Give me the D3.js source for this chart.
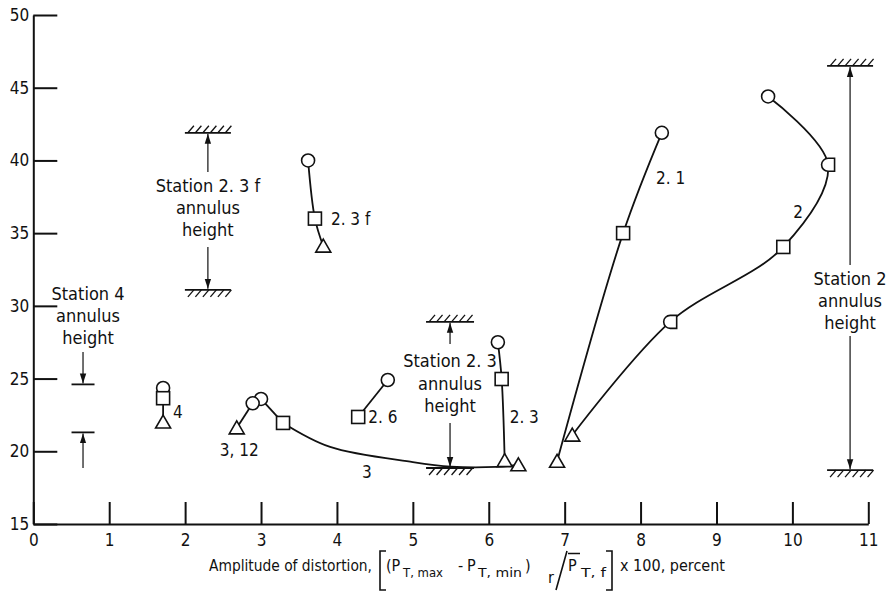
<!DOCTYPE html>
<html><head><meta charset="utf-8">
<script src="https://cdn.jsdelivr.net/npm/d3@7"></script>
<style>
html,body{margin:0;padding:0;background:#fff;}
svg{display:block;}
text{font-family:'DejaVu Sans Condensed','Liberation Sans Narrow',sans-serif;fill:#111;}
</style></head><body>
<svg id="c" width="894" height="591"></svg>
<script>
// ---------------- data ----------------
const xTickValues = [0,1,2,3,4,5,6,7,8,9,10,11];
const yTickValues = [15,20,25,30,35,40,45,50];

// marker series: [amplitude %, y]
const s2_3f_pts = [[3.62,40.0],[3.71,36.0],[3.82,34.1]];
const s2_3f_marks = ['circle','square','triangle'];
const s4_pts = [[1.71,24.35],[1.71,23.65],[1.71,22.0]];
const s4_marks = ['circle','square','triangle'];
const s3_12_pts = [[2.68,21.6],[2.89,23.3]];
const s3_12_marks = ['triangle','circle'];
const s3_pts = [[3.0,23.6],[3.29,21.95],[6.39,19.06]];
const s3_marks = ['circle','square','triangle'];
const s3_fair = [[3.29,21.95],[3.91,20.3],[5.0,19.26],[5.5,18.95],[6.1,18.93],[6.39,19.06]];
const s2_6_pts = [[4.67,24.9],[4.28,22.36]];
const s2_6_marks = ['circle','square'];
const s2_3_pts = [[6.12,27.5],[6.17,24.97],[6.21,19.35]];
const s2_3_marks = ['circle','square','triangle'];
const s2_1_pts = [[8.28,41.9],[7.77,35.0],[6.9,19.3]];
const s2_1_marks = ['circle','square','triangle'];
const s2_pts = [[9.68,44.4],[10.47,39.7],[9.88,34.05],[8.39,28.9],[7.1,21.1]];
const s2_marks = ['circle','circsq','square','circsq','triangle'];

const seriesLabels = ['2. 3 f','4','3, 12','2. 6','3','2. 3','2. 1','2'];

// annulus height annotations
const stationNames = ['Station 2. 3 f','Station 2. 3','Station 2','Station 4'];
const stationX = [2.30, 5.49, 10.76, 0.655];
const stationTop = [41.9, 28.9, 46.5, 24.6];
const stationBottom = [31.1, 18.85, 18.7, 21.3];

// ---------------- layout ----------------
const svg = d3.select('#c');
const x = d3.scaleLinear().domain([0,11]).range([33.3,868.3]);
const y = d3.scaleLinear().domain([15,50]).range([524,15]);
const INK = '#111';

// axes
const gx = svg.append('g').attr('transform',`translate(0,${y(15)})`)
  .call(d3.axisBottom(x).tickValues(xTickValues).tickSizeInner(-22).tickSizeOuter(0).tickPadding(10).tickFormat(d3.format('d')));
const gy = svg.append('g').attr('transform',`translate(${x(0)},0)`)
  .call(d3.axisLeft(y).tickValues(yTickValues).tickSizeInner(-24).tickSizeOuter(0).tickPadding(4).tickFormat(d3.format('d')));
[gx,gy].forEach(g=>{
  g.select('.domain').attr('stroke',INK).attr('stroke-width',2);
  g.selectAll('.tick line').attr('stroke',INK).attr('stroke-width',2);
  g.selectAll('.tick text').attr('font-size',17).attr('fill',INK)
   .style('font-family',"'DejaVu Sans Condensed',sans-serif");
});

// x-axis title
const tfs = 16, sfs = 12, base = 571;
const title = svg.append('g');
function t(str,xx,yy,fs,len){
  const e = title.append('text').attr('x',xx).attr('y',yy).attr('font-size',fs).text(str);
  if(len) e.attr('textLength',len).attr('lengthAdjust','spacingAndGlyphs');
}
t('Amplitude of distortion,',209,base,tfs,163);
t('(P',386,base,tfs);
t('T, max',403,base+6,sfs,40);
t('-',458,base,tfs);
t('P',467,base,tfs);
t('T, min',478,base+6,sfs,44);
t(')',525,base,tfs);
t('r',548,base+12,tfs);
t('P',568,base,tfs);
t('T, f',581,base+6,sfs,25);
t('x 100, percent',620,base,tfs,105);
// brackets, slash, overbar
title.append('path').attr('fill','none').attr('stroke',INK).attr('stroke-width',1.6)
  .attr('d','M386,551 L380,551 L380,590 L386,590 M606,551 L612,551 L612,590 L606,590 M567,551 L556,590 M568,553.5 L580,553.5');

// line generator
const line = d3.line().x(d=>x(d[0])).y(d=>y(d[1])).curve(d3.curveCatmullRom.alpha(0.5));
const lines = svg.append('g').attr('fill','none').attr('stroke',INK).attr('stroke-width',1.8);
[s2_3f_pts, s4_pts, s3_12_pts, [s3_pts[0],s3_pts[1]], s3_fair, s2_6_pts, s2_3_pts, s2_1_pts, s2_pts]
  .forEach(p=>lines.append('path').attr('d',line(p)));

// markers
const R = 6.5;
const marks = svg.append('g').attr('fill','#fff').attr('stroke',INK).attr('stroke-width',1.6);
function drawMarks(pts,types){
  pts.forEach((p,i)=>{
    const cx = x(p[0]), cy = y(p[1]), tp = types[i];
    if(tp==='circle') marks.append('circle').attr('cx',cx).attr('cy',cy).attr('r',R);
    else if(tp==='square') marks.append('rect').attr('x',cx-R).attr('y',cy-R).attr('width',2*R).attr('height',2*R);
    else if(tp==='triangle'){
      const h=13, w=15;
      marks.append('path').attr('d',`M${cx},${cy-h*0.55} L${cx+w/2},${cy+h*0.45} L${cx-w/2},${cy+h*0.45} Z`);
    } else if(tp==='circsq'){
      marks.append('path').attr('d',`M${cx},${cy-R} L${cx+R},${cy-R} L${cx+R},${cy+R} L${cx},${cy+R} A${R},${R} 0 0 1 ${cx},${cy-R} Z`);
    }
  });
}
drawMarks(s2_3f_pts,s2_3f_marks);
drawMarks(s4_pts,s4_marks);
drawMarks(s3_pts,s3_marks);
drawMarks(s3_12_pts,s3_12_marks);
drawMarks(s2_6_pts,s2_6_marks);
drawMarks(s2_3_pts,s2_3_marks);
drawMarks(s2_1_pts,s2_1_marks);
drawMarks(s2_pts,s2_marks);

// series labels, anchored to a data point with pixel offsets
const labelAnchors = [[s2_3f_pts[1],16,6],[s4_pts[2],10,-4],[s3_12_pts[0],-17,28],[s2_6_pts[1],10,6],
  [s3_pts[1],79,55],[s2_3_pts[1],8,44],[s2_1_pts[1],33,-49],[s2_pts[2],10,-29]];
const lab = svg.append('g').attr('font-size',17);
seriesLabels.forEach((s,i)=>{
  const a = labelAnchors[i];
  lab.append('text').attr('x',x(a[0][0])+a[1]).attr('y',y(a[0][1])+a[2]).text(s);
});

// station annotations
svg.append('defs').append('marker').attr('id','ah').attr('viewBox','0 0 10 10')
  .attr('refX',10).attr('refY',5).attr('markerWidth',10).attr('markerHeight',10)
  .attr('markerUnits','userSpaceOnUse').attr('orient','auto')
  .append('path').attr('d','M0,1.8 L10,5 L0,8.2 Z').attr('fill',INK);

const stationLayout = [
  {base:[192,214,236], upFrom:172, downFrom:247, hatch:true, w:46},
  {base:[367,390,412], upFrom:344, downFrom:423, hatch:true, w:48},
  {base:[285,307,329], upFrom:265, downFrom:336, hatch:true, w:46},
  {base:[300,322,344], upFrom:null, downFrom:352, hatch:false, w:23, below:468}
];
const ann = svg.append('g');
function hatch(cx,yy,w,dir){
  const g = ann.append('g').attr('stroke',INK).attr('fill','none');
  g.append('line').attr('x1',cx-w/2).attr('x2',cx+w/2).attr('y1',yy).attr('y2',yy).attr('stroke-width',1.8);
  for(let xx=cx-w/2+3; xx<cx+w/2-3; xx+=7.5){
    if(dir<0) g.append('line').attr('x1',xx).attr('y1',yy).attr('x2',xx+6).attr('y2',yy-7).attr('stroke-width',1.3);
    else g.append('line').attr('x1',xx).attr('y1',yy+7).attr('x2',xx+6).attr('y2',yy).attr('stroke-width',1.3);
  }
}
stationNames.forEach((nm,i)=>{
  const L = stationLayout[i], cx = x(stationX[i]);
  const yt = y(stationTop[i]), yb = y(stationBottom[i]);
  const txt = [nm,'annulus','height'];
  txt.forEach((s,k)=>ann.append('text').attr('x',i===3?88:cx).attr('y',L.base[k]).attr('text-anchor','middle').attr('font-size',18).text(s));
  if(L.hatch){
    hatch(cx,yt,L.w,-1); hatch(cx,yb,L.w,1);
    ann.append('line').attr('x1',cx).attr('x2',cx).attr('y1',L.upFrom).attr('y2',yt+1).attr('stroke',INK).attr('stroke-width',1.2).attr('marker-end','url(#ah)');
    ann.append('line').attr('x1',cx).attr('x2',cx).attr('y1',L.downFrom).attr('y2',yb-1).attr('stroke',INK).attr('stroke-width',1.2).attr('marker-end','url(#ah)');
  } else {
    ann.append('line').attr('x1',cx-L.w/2).attr('x2',cx+L.w/2).attr('y1',yt).attr('y2',yt).attr('stroke',INK).attr('stroke-width',1.8);
    ann.append('line').attr('x1',cx-L.w/2).attr('x2',cx+L.w/2).attr('y1',yb).attr('y2',yb).attr('stroke',INK).attr('stroke-width',1.8);
    ann.append('line').attr('x1',cx).attr('x2',cx).attr('y1',L.downFrom).attr('y2',yt-1).attr('stroke',INK).attr('stroke-width',1.2).attr('marker-end','url(#ah)');
    ann.append('line').attr('x1',cx).attr('x2',cx).attr('y1',L.below).attr('y2',yb+1).attr('stroke',INK).attr('stroke-width',1.2).attr('marker-end','url(#ah)');
  }
});
</script>
</body></html>
